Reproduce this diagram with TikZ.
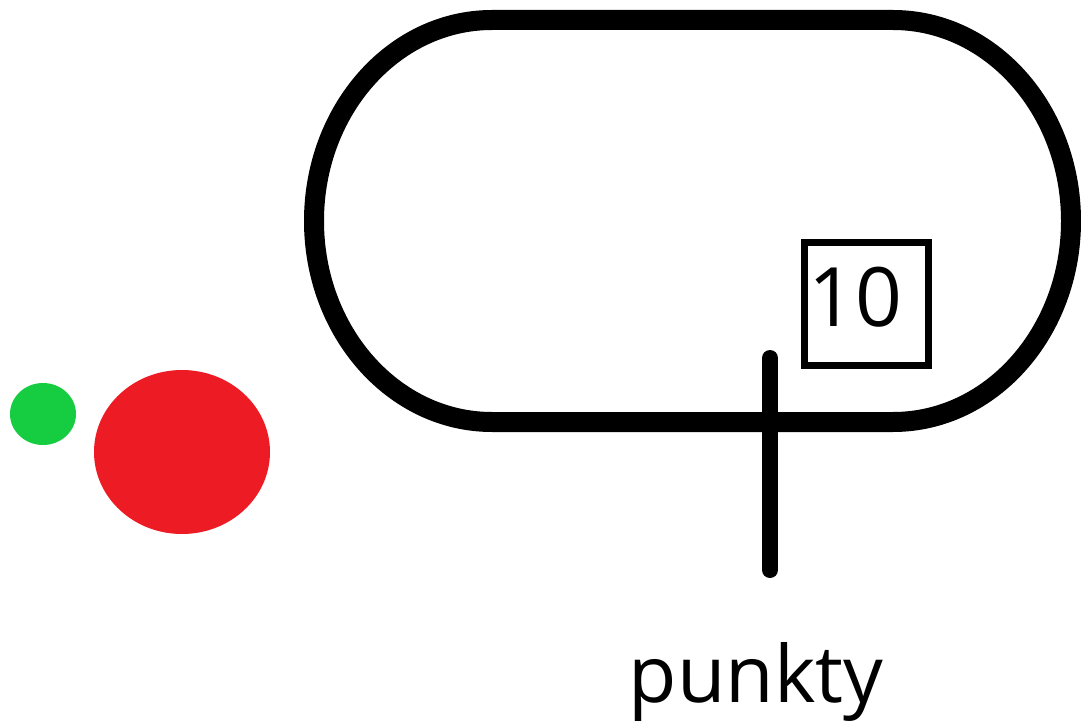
\documentclass[tikz,border=0pt]{standalone}
\usepackage{fontspec}
\setmainfont{Open Sans}
\definecolor{dotgreen}{RGB}{22,204,64}
\definecolor{dotred}{RGB}{237,28,36}
\begin{document}
\begin{tikzpicture}[x=1pt,y=1pt,
  track/.style={line width=20pt},
  scorebox/.style={draw,line width=7pt,minimum width=124pt,minimum height=122pt,inner sep=0pt},
  marker/.style={line width=16pt,line cap=round},
  lbl/.style={inner sep=0pt,font=\fontsize{79}{90}\selectfont}]
\useasboundingbox (0,0) rectangle (1081,724);
\draw[track] (492,704) -- (893,704)
  arc[start angle=90,end angle=-90,x radius=178,y radius=201]
  -- (492,302)
  arc[start angle=-90,end angle=-270,x radius=178,y radius=201] -- cycle;
\node[scorebox] (box) at (866,420) {};
\node[lbl,font=\fontsize{82}{96}\selectfont] (ten) at (855,426.5) {10};
\coordinate (mtop) at (770,366);
\coordinate (mbot) at (770,154);
\draw[marker] (mtop) -- (mbot);
\fill[dotgreen] (43,310) ellipse[x radius=33,y radius=31];
\fill[dotred] (182,272) ellipse[x radius=88,y radius=82];
\node[lbl,anchor=base] (pts) at (756,22) {punkty};
\end{tikzpicture}
\end{document}
